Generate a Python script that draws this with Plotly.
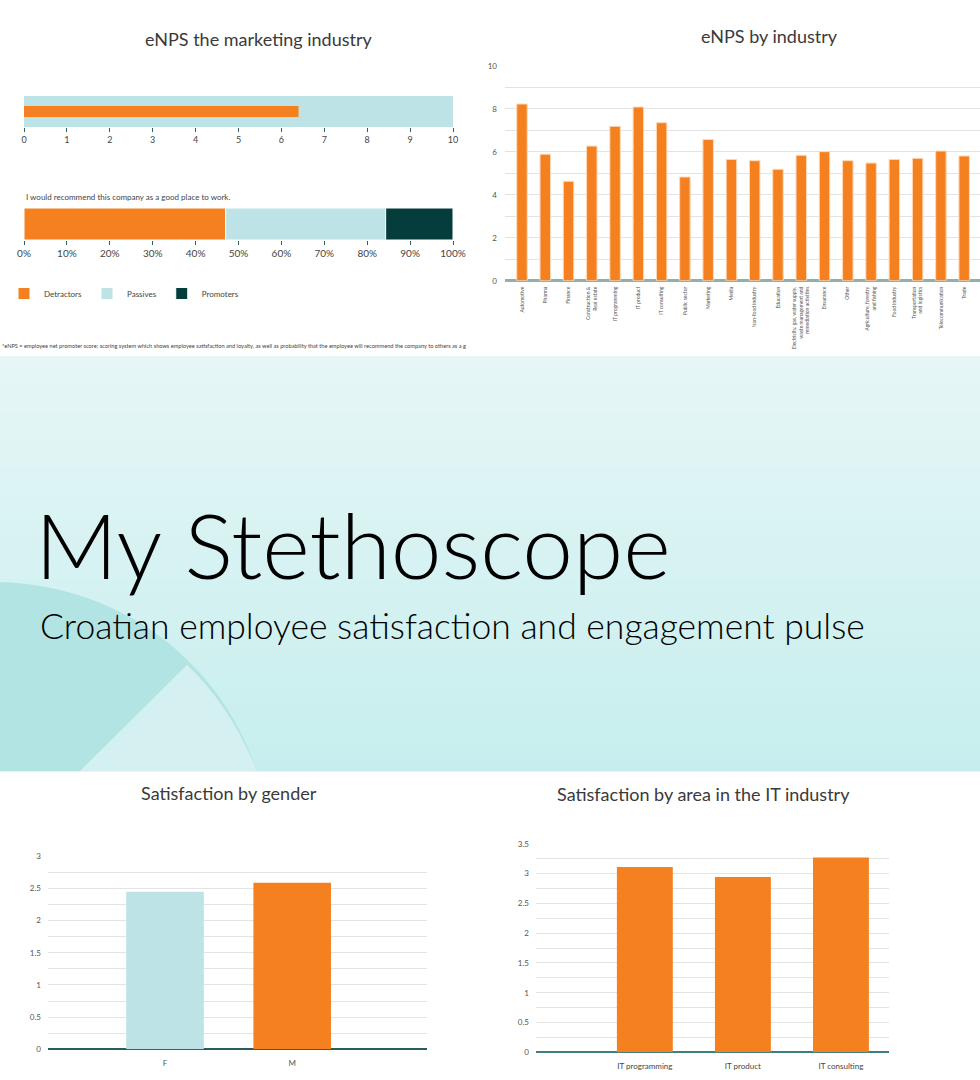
import plotly.graph_objects as go

W, H = 980, 1080
def X(px): return px / W
def Y(py): return 1 - py / H

FONT = "Lato, 'Noto Sans', sans-serif"
ORANGE = "#f58020"
TEAL_LIGHT = "#bde3e6"
TEAL_DARK = "#053d3d"

# ---------------- data ----------------
bullet_max = [10]
bullet_value = [6.4]

stack_names = ["Detractors", "Passives", "Promoters"]
stack_values = [47.0, 37.3, 15.7]
stack_colors = [ORANGE, TEAL_LIGHT, TEAL_DARK]
stack_question = "I would recommend this company as a good place to work."

industries = [
    "Automotive", "Pharma", "Finance", "Construction &<br>Real estate", "IT programming",
    "IT product", "IT consulting", "Public sector", "Marketing", "Media",
    "Non-food industry", "Education",
    "Electricity, gas, water supply,<br>waste management and<br>remediation activities",
    "Ensurance", "Other", "Agriculture, forestry<br>and fishing", "Food industry",
    "Transportation<br>and logistics", "Telecommunication", "Trade",
]
industry_enps = [8.23, 5.89, 4.63, 6.27, 7.19, 8.09, 7.36, 4.83, 6.58, 5.65,
                 5.59, 5.19, 5.84, 6.01, 5.59, 5.48, 5.65, 5.70, 6.04, 5.81]

genders = ["F", "M"]
gender_sat = [2.45, 2.59]
gender_colors = [TEAL_LIGHT, ORANGE]

it_areas = ["IT programming", "IT product", "IT consulting"]
it_sat = [3.11, 2.94, 3.27]

footnote = ("*eNPS = employee net promoter score; scoring system which shows employee satisfaction "
            "and loyalty, as well as probability that the employee will recommend the company to others as a g")

fig = go.Figure()

# ---- bullet chart (x1/y1) ----
fig.add_trace(go.Bar(x=bullet_max, y=[0], orientation="h", width=1.0,
                     marker=dict(color=TEAL_LIGHT, line=dict(width=0)),
                     showlegend=False, xaxis="x", yaxis="y", hoverinfo="skip"))
fig.add_trace(go.Bar(x=bullet_value, y=[0], orientation="h", width=0.36,
                     marker=dict(color=ORANGE, line=dict(width=0)),
                     showlegend=False, xaxis="x", yaxis="y"))

# ---- stacked 100% bar (x2/y2) ----
base = 0.0
for name, val, col in zip(stack_names, stack_values, stack_colors):
    fig.add_trace(go.Bar(x=[val], y=[0], base=[base], orientation="h", width=1.0, name=name,
                         marker=dict(color=col, line=dict(color="white", width=1)),
                         xaxis="x2", yaxis="y2"))
    base += val

# ---- eNPS by industry (x3/y3) ----
fig.add_trace(go.Bar(x=industries, y=industry_enps, width=0.45,
                     marker=dict(color=ORANGE, line=dict(color="#fcd9b8", width=1)),
                     showlegend=False, xaxis="x3", yaxis="y3"))

# ---- satisfaction by gender (x4/y4) ----
fig.add_trace(go.Bar(x=genders, y=gender_sat, width=0.61,
                     marker=dict(color=gender_colors, line=dict(width=0)),
                     showlegend=False, xaxis="x4", yaxis="y4"))

# ---- satisfaction by IT area (x5/y5) ----
fig.add_trace(go.Bar(x=it_areas, y=it_sat, width=0.57,
                     marker=dict(color=ORANGE, line=dict(width=0)),
                     showlegend=False, xaxis="x5", yaxis="y5"))

tickfont = dict(family=FONT, size=9, color="#444")
grid = "#e3e3e3"

fig.update_layout(
    width=W, height=H, autosize=False,
    margin=dict(l=0, r=0, t=0, b=0, pad=0, autoexpand=False),
    paper_bgcolor="white", plot_bgcolor="rgba(0,0,0,0)",
    barmode="overlay", font=dict(family=FONT, color="#333"),
    legend=dict(orientation="h", x=X(4), y=Y(279), xanchor="left", yanchor="top",
                font=dict(family=FONT, size=8, color="#444"), itemwidth=30,
                bgcolor="rgba(0,0,0,0)", traceorder="normal"),
    xaxis=dict(domain=[X(24), X(453)], range=[0, 10], dtick=1, anchor="y", automargin=False,
               ticks="outside", ticklen=4, tickcolor="#2f6060", showgrid=False, zeroline=False,
               tickfont=tickfont, showline=False),
    yaxis=dict(domain=[Y(127), Y(96)], range=[-0.5, 0.5], visible=False, anchor="x", automargin=False),
    xaxis2=dict(domain=[X(24), X(453)], range=[0, 100], dtick=10, ticksuffix="%", anchor="y2",
                automargin=False,
                ticks="outside", ticklen=4, tickcolor="#2f6060", showgrid=False, zeroline=False,
                tickfont=dict(family=FONT, size=10, color="#444")),
    yaxis2=dict(domain=[Y(240), Y(208)], range=[-0.5, 0.5], visible=False, anchor="x2", automargin=False),
    xaxis3=dict(domain=[X(505), X(980)], range=[-0.73, 19.68], anchor="y3", type="category",
                automargin=False, ticklabelstandoff=4,
                tickangle=-90, tickfont=dict(family=FONT, size=5, color="#555"),
                showgrid=False, ticks=""),
    yaxis3=dict(domain=[Y(280.7), Y(66)], range=[0, 10], dtick=2, anchor="x3", automargin=False,
                showgrid=True, gridcolor=grid, gridwidth=1,
                minor=dict(dtick=1, showgrid=True, gridcolor=grid),
                zeroline=True, zerolinecolor="#8fb1ae", zerolinewidth=2.5,
                tickfont=dict(family=FONT, size=8, color="#555"), ticklabelstandoff=7),
    xaxis4=dict(domain=[X(48), X(427)], range=[-0.92, 2.06], anchor="y4", type="category",
                automargin=False, ticklabelstandoff=8,
                tickfont=dict(family=FONT, size=8, color="#555"), showgrid=False, ticks=""),
    yaxis4=dict(domain=[Y(1049.3), Y(856.3)], range=[0, 3], dtick=0.5, anchor="x4", automargin=False,
                showgrid=True, gridcolor=grid,
                minor=dict(dtick=0.25, showgrid=True, gridcolor=grid),
                zeroline=True, zerolinecolor="#2b5d5d", zerolinewidth=1.5,
                tickfont=dict(family=FONT, size=8, color="#555"), ticklabelstandoff=6),
    xaxis5=dict(domain=[X(536), X(889)], range=[-1.11, 2.49], anchor="y5", type="category",
                automargin=False, ticklabelstandoff=8,
                tickfont=dict(family=FONT, size=8, color="#444"), showgrid=False, ticks=""),
    yaxis5=dict(domain=[Y(1052.3), Y(843.7)], range=[0, 3.5], dtick=0.5, anchor="x5", automargin=False,
                showgrid=True, gridcolor=grid,
                minor=dict(dtick=0.25, showgrid=True, gridcolor=grid),
                zeroline=True, zerolinecolor="#3d7f7f", zerolinewidth=1.5,
                tickfont=dict(family=FONT, size=8, color="#555"), ticklabelstandoff=6),
)

# ---- banner background (gradient strips) ----
shapes = []
top, bot = 356, 771
n = 30
c0 = (0xe6, 0xf6, 0xf6)
c1 = (0xc7, 0xee, 0xee)
for i in range(n):
    t = i / (n - 1)
    c = tuple(int(round(a + (b - a) * t)) for a, b in zip(c0, c1))
    y0 = top + (bot - top) * i / n
    y1 = top + (bot - top) * (i + 1) / n
    shapes.append(dict(type="rect", xref="paper", yref="paper", x0=0, x1=1,
                       y0=Y(y1 + 0.5), y1=Y(y0), fillcolor="rgb(%d,%d,%d)" % c,
                       line=dict(width=0), layer="below"))
# quarter circle decoration
def P(px, py): return "%f,%f" % (X(px), Y(py))
shapes.append(dict(type="path", xref="paper", yref="paper",
                   path="M %s C %s %s %s L %s Z" % (P(0, 582), P(110, 585), P(215, 650), P(257, 771), P(0, 771)),
                   fillcolor="#b2e4e4", line=dict(width=0), layer="below"))
shapes.append(dict(type="path", xref="paper", yref="paper",
                   path="M %s Q %s %s L %s Z" % (P(187, 665), P(230, 705), P(257, 771), P(80, 771)),
                   fillcolor="#d5f0f0", line=dict(width=0), layer="below"))
fig.update_layout(shapes=shapes)

ann = []
def text(px, py, s, size, color="#333", xanchor="center", yanchor="middle", weight=None, family=FONT):
    f = dict(family=family, size=size, color=color)
    if weight:
        f["weight"] = weight
    ann.append(dict(x=X(px), y=Y(py), xref="paper", yref="paper", text=s, showarrow=False,
                    xanchor=xanchor, yanchor=yanchor, font=f))

text(259, 39, "eNPS the marketing industry", 18, color="#3a3a3a")
text(769, 36, "eNPS by industry", 18, color="#3a3a3a")
text(229, 793, "Satisfaction by gender", 18, color="#3a3a3a")
text(703, 794, "Satisfaction by area in the IT industry", 18, color="#3a3a3a")
text(24, 197, stack_question, 8, color="#444", xanchor="left")
text(0, 345, footnote, 5.65, color="#444", xanchor="left")
text(33, 543, "My Stethoscope", 91, color="#000", xanchor="left", weight=300)
text(38, 625, "Croatian employee satisfaction and engagement pulse", 35.5, color="#000", xanchor="left", weight=300)
fig.update_layout(annotations=ann)

fig.write_html("out.html", config={"displayModeBar": False},
               post_script="document.body.style.margin='0';document.body.style.padding='0';"
                           "document.documentElement.style.overflow='hidden';")
